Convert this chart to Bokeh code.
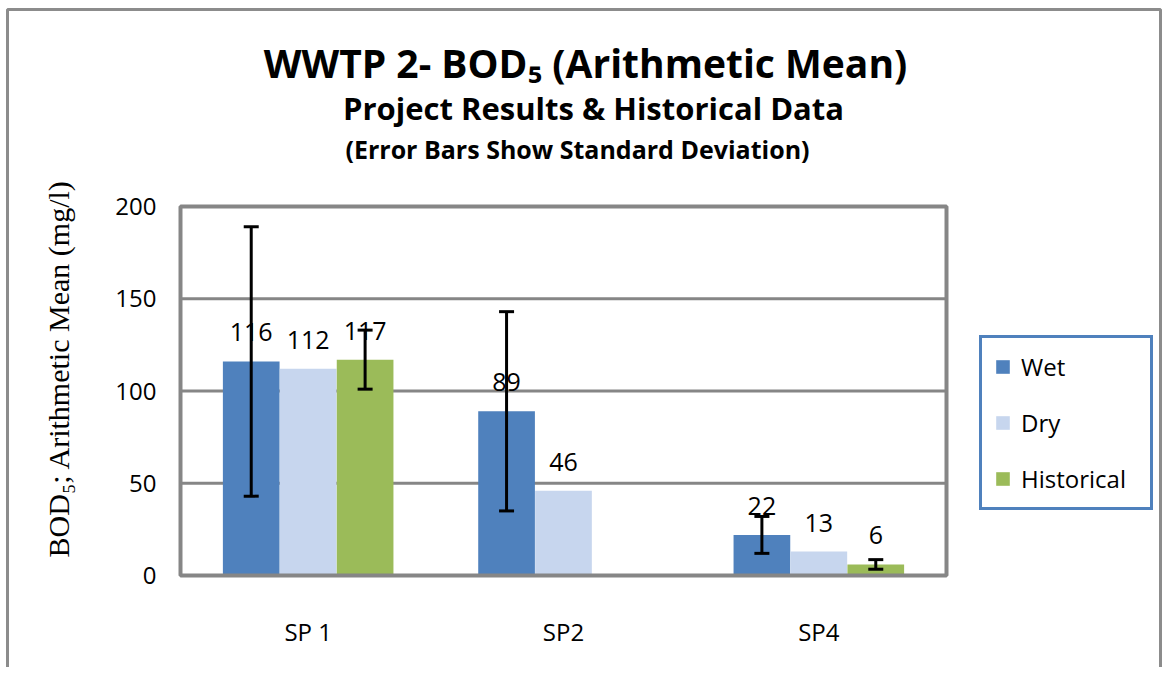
import math
from bokeh.plotting import figure
from bokeh.models import (ColumnDataSource, Range1d, LabelSet, Whisker, Legend, LegendItem,
                          BoxAnnotation, TeeHead, FixedTicker)
from bokeh.core.properties import value
from bokeh.embed import file_html
from bokeh.resources import INLINE

# ---------------- data ----------------
sites = ["SP 1", "SP2", "SP4"]
series = ["Wet", "Dry", "Historical"]
wet = [116, 89, 22]
dry = [112, 46, 13]
historical = [117, float("nan"), 6]
wet_sd = [73, 54, 10]
dry_sd = [float("nan"), float("nan"), float("nan")]
historical_sd = [16, float("nan"), 2.6]
y_ticks = [0, 50, 100, 150, 200]
grid_ticks = [50, 100, 150]
title_lines = ["WWTP 2- BOD\u2085 (Arithmetic Mean)",
               "Project Results & Historical Data",
               "(Error Bars Show Standard Deviation)"]
y_title = "BOD\u2085; Arithmetic Mean (mg/l)"

# ---------------- styling / layout ----------------
colors = ["#4F81BD", "#C7D6EE", "#9BBB59"]
offsets = [-0.223, 0.0, 0.223]
bar_width = 0.222
values_all = [wet, dry, historical]
sds_all = [wet_sd, dry_sd, historical_sd]
FONT = "Open Sans"
GRID = "#868686"

W, H = 1162, 667
# pixel geometry of the plot area (value axis 0..200, 3 categories)
PA_L, PA_R, PA_B, PA_T = 180, 946, 575, 206
Y_MAX = 200
NCAT = len(sites)


def px2x(px):
    return (px - PA_L) / (PA_R - PA_L) * NCAT


def px2y(py):
    return (PA_B - py) / (PA_B - PA_T) * Y_MAX


p = figure(x_range=Range1d(px2x(0), px2x(W)), y_range=Range1d(px2y(H), px2y(0)),
           width=W, height=H, min_border=0,
           output_backend="svg", toolbar_location=None, tools="")
p.background_fill_color = "white"
p.border_fill_color = "white"
p.outline_line_color = None
p.xgrid.visible = False
p.ygrid.visible = False

# axes (anchored at the plot-area origin)
for ax in (p.xaxis[0], p.yaxis[0]):
    ax.fixed_location = 0
    ax.axis_line_color = None
    ax.major_tick_line_color = None
    ax.minor_tick_line_color = None
    ax.major_tick_out = 0
    ax.major_tick_in = 0
    ax.major_label_text_font = FONT
    ax.major_label_text_font_size = "24px"
    ax.major_label_text_color = "black"
cat_x = [i + 0.5 for i in range(NCAT)]
p.xaxis.ticker = FixedTicker(ticks=cat_x)
p.xaxis.major_label_overrides = {c: s for c, s in zip(cat_x, sites)}
p.xaxis.major_label_standoff = 39
p.yaxis.ticker = FixedTicker(ticks=y_ticks)
p.yaxis.major_label_standoff = 24

# gridlines (only inside the plot area)
p.segment(x0=0, x1=NCAT, y0=grid_ticks, y1=grid_ticks, line_color=GRID, line_width=3)

renderers = []
for name, vals, col, off in zip(series, values_all, colors, offsets):
    xs = [c + off for c in cat_x]
    src = ColumnDataSource(dict(x=xs, top=vals))
    r = p.vbar(x="x", top="top", width=bar_width, source=src, fill_color=col, line_color=None)
    renderers.append(r)

# plot area border
p.add_layout(BoxAnnotation(left=0, right=NCAT, bottom=0, top=Y_MAX, fill_alpha=0,
                           line_color=GRID, line_alpha=1, line_width=4))

# data labels
for vals, off in zip(values_all, offsets):
    rows = [(c + off, v) for c, v in zip(cat_x, vals) if not math.isnan(v)]
    lsrc = ColumnDataSource(dict(x=[r[0] for r in rows], y=[r[1] for r in rows],
                                 txt=[str(int(round(r[1]))) for r in rows]))
    p.add_layout(LabelSet(x="x", y="y", text="txt", y_offset=20, source=lsrc,
                          text_align="center", text_baseline="alphabetic",
                          text_font=value(FONT), text_font_size=value("25px"),
                          text_color="black"))

# error bars (standard deviation)
for vals, sds, off in zip(values_all, sds_all, offsets):
    rows = [(c + off, v, e) for c, v, e in zip(cat_x, vals, sds)
            if not (math.isnan(v) or math.isnan(e))]
    if not rows:
        continue
    wsrc = ColumnDataSource(dict(x=[r[0] for r in rows],
                                 upper=[r[1] + r[2] for r in rows],
                                 lower=[r[1] - r[2] for r in rows]))
    p.add_layout(Whisker(base="x", upper="upper", lower="lower", source=wsrc, level="annotation",
                         line_color="black", line_width=3,
                         upper_head=TeeHead(size=15, line_width=3, line_color="black"),
                         lower_head=TeeHead(size=15, line_width=3, line_color="black")))

# legend
legend = Legend(items=[LegendItem(label=n, renderers=[r]) for n, r in zip(series, renderers)],
                location=(979, H - 510), orientation="vertical",
                border_line_color="#4F81BD", border_line_width=3, border_line_alpha=1,
                background_fill_color="white", background_fill_alpha=1,
                label_text_font=FONT, label_text_font_size="24px", label_text_color="black",
                glyph_width=17, glyph_height=17, label_standoff=10, label_width=117,
                padding=12, spacing=23, margin=0)
p.add_layout(legend)

# titles
title_pos = [(585, 77, "39px"), (593, 119, "31px"), (577, 158, "25px")]
for txt, (cx, by, fs) in zip(title_lines, title_pos):
    tsrc = ColumnDataSource(dict(x=[px2x(cx)], y=[px2y(by)], t=[txt]))
    p.add_layout(LabelSet(x="x", y="y", text="t", source=tsrc, text_font=value(FONT),
                          text_font_style=value("bold"), text_font_size=value(fs),
                          text_align="center", text_baseline="alphabetic", text_color="black"))

# y-axis title
ysrc = ColumnDataSource(dict(x=[px2x(68)], y=[px2y(368)], t=[y_title]))
p.add_layout(LabelSet(x="x", y="y", text="t", source=ysrc, angle=math.pi / 2,
                      text_font=value("Liberation Serif"), text_font_size=value("30px"),
                      text_align="center", text_baseline="alphabetic", text_color="black"))

# outer chart border
p.add_layout(BoxAnnotation(left=px2x(7), right=px2x(1160), top=px2y(9), bottom=px2y(800),
                           fill_alpha=0, line_color="#8c8c8c", line_alpha=1, line_width=3,
                           level="underlay"))

open("out.html", "w").write(file_html(p, INLINE))
